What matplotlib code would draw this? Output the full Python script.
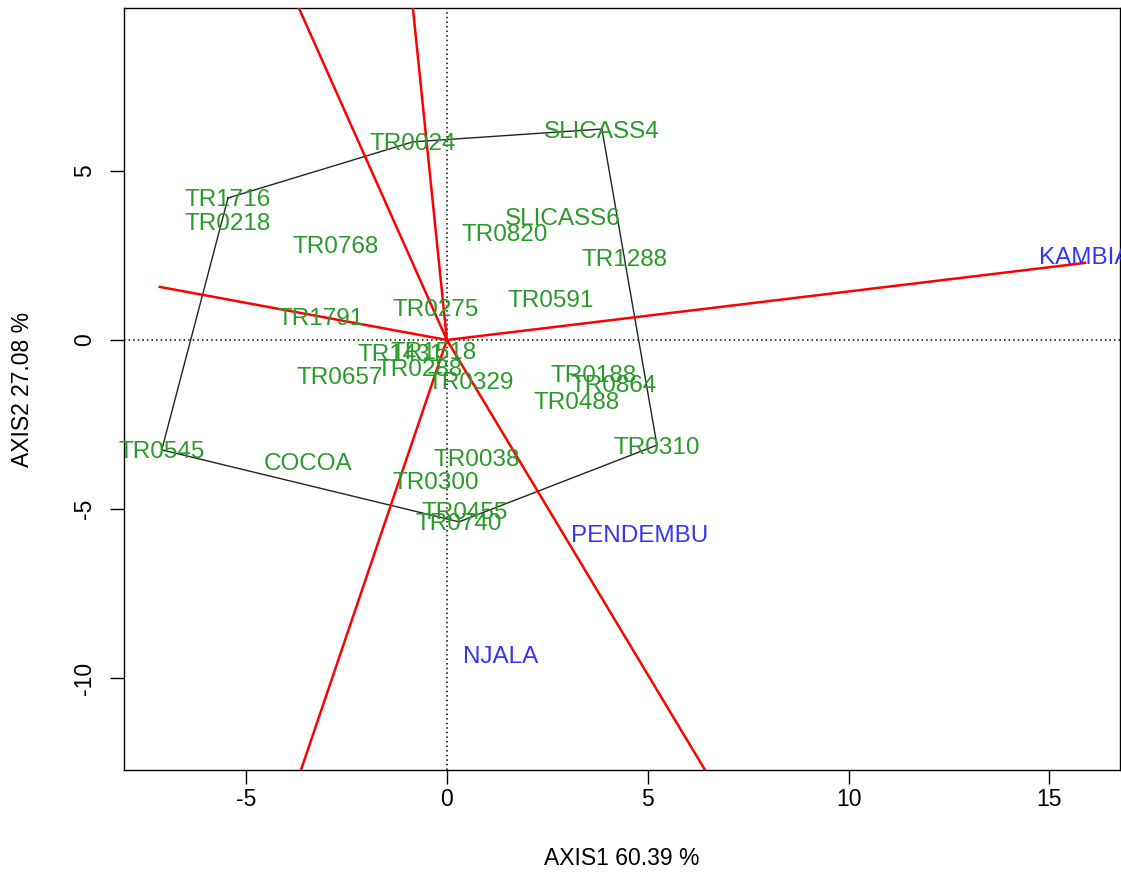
"""GGE biplot: which-won-where view of genotypes across environments."""

import matplotlib
matplotlib.use("Agg")
import matplotlib.pyplot as plt

plt.rcParams["font.family"] = ["Liberation Sans", "DejaVu Sans"]
plt.rcParams["axes.unicode_minus"] = False

# ---------------------------------------------------------------------------
# Scores on AXIS1 / AXIS2
# ---------------------------------------------------------------------------

gen_names = ["TR0024", "SLICASS4", "TR1716", "TR0218", "TR0768", "SLICASS6",
             "TR0820", "TR1288", "TR0591", "TR0275", "TR1791", "TR1431",
             "TR1518", "TR0288", "TR0329", "TR0657", "TR0188", "TR0864",
             "TR0488", "TR0310", "TR0038", "TR0300", "TR0455", "TR0740",
             "TR0545", "COCOA"]
gen_x = [-0.85, 3.86, -5.45, -5.45, -2.76, 2.89,
         1.44, 4.41, 2.59, -0.27, -3.14, -1.15,
         -0.32, -0.67, 0.60, -2.66, 3.64, 4.16,
         3.24, 5.23, 0.73, -0.27, 0.45, 0.30,
         -7.10, -3.46]
gen_y = [5.86, 6.24, 4.20, 3.49, 2.81, 3.64,
         3.17, 2.43, 1.24, 0.95, 0.68, -0.36,
         -0.30, -0.80, -1.21, -1.04, -0.98, -1.30,
         -1.80, -3.11, -3.49, -4.17, -5.03, -5.38,
         -3.25, -3.58]

env_names = ["KAMBIA", "PENDEMBU", "NJALA"]
env_x = [15.87, 4.81, 1.34]
env_y = [2.49, -5.71, -9.29]

# genotypes on the convex hull, in drawing order
hull_names = ["TR1716", "TR0024", "SLICASS4", "TR0310", "TR0740", "TR0545"]

# sector boundaries (rays from the origin, perpendicular to hull sides)
ray_x = [15.89, -7.15, -5.53, -1.27, 9.64, -5.45]
ray_y = [2.28, 1.57, 14.73, 14.73, -19.08, -19.08]

x_ticks = [-5, 0, 5, 10, 15]
y_ticks = [-10, -5, 0, 5]


fig = plt.figure(figsize=(11.21, 8.72), dpi=100)
ax = fig.add_axes([124 / 1121, 102 / 872, 996 / 1121, 762 / 872])

ax.set_xlim(-8.04, 16.76)
ax.set_ylim(-12.72, 9.82)

ax.axhline(0, color="black", linestyle=(0, (1, 2)), lw=1.1, zorder=1)
ax.axvline(0, color="black", linestyle=(0, (1, 2)), lw=1.1, zorder=1)

# --- hull polygon ---
idx = [gen_names.index(n) for n in hull_names]
px = [gen_x[i] for i in idx] + [gen_x[idx[0]]]
py = [gen_y[i] for i in idx] + [gen_y[idx[0]]]
ax.plot(px, py, color="#222222", lw=1.0, zorder=2)

# --- sector rays ---
for rx, ry in zip(ray_x, ray_y):
    ax.plot([0, rx], [0, ry], color="red", lw=1.8, zorder=3)

# --- labels ---
for name, x, y in zip(gen_names, gen_x, gen_y):
    ax.text(x, y, name, color="#2a9a2a", fontsize=17.5,
            ha="center", va="center_baseline", zorder=4)
for name, x, y in zip(env_names, env_x, env_y):
    ax.text(x, y, name, color="#3535f5", fontsize=17.5,
            ha="center", va="center_baseline", zorder=4)

ax.set_xticks(x_ticks)
ax.set_yticks(y_ticks)
ax.tick_params(direction="out", length=10, width=1, labelsize=16.5)
ax.tick_params(axis="x", pad=3)
ax.tick_params(axis="y", pad=10)
for lab in ax.get_yticklabels():
    lab.set_rotation(90)
    lab.set_va("center")
for sp in ax.spines.values():
    sp.set_linewidth(1.0)

ax.set_xlabel("AXIS1 60.39 %", fontsize=16.5, va="center")
ax.set_ylabel("AXIS2 27.08 %", fontsize=16.5, va="center")
ax.xaxis.set_label_coords(0.5, -0.1155)
ax.yaxis.set_label_coords(-0.1024, 0.5)

fig.savefig("out.png", dpi=100)
